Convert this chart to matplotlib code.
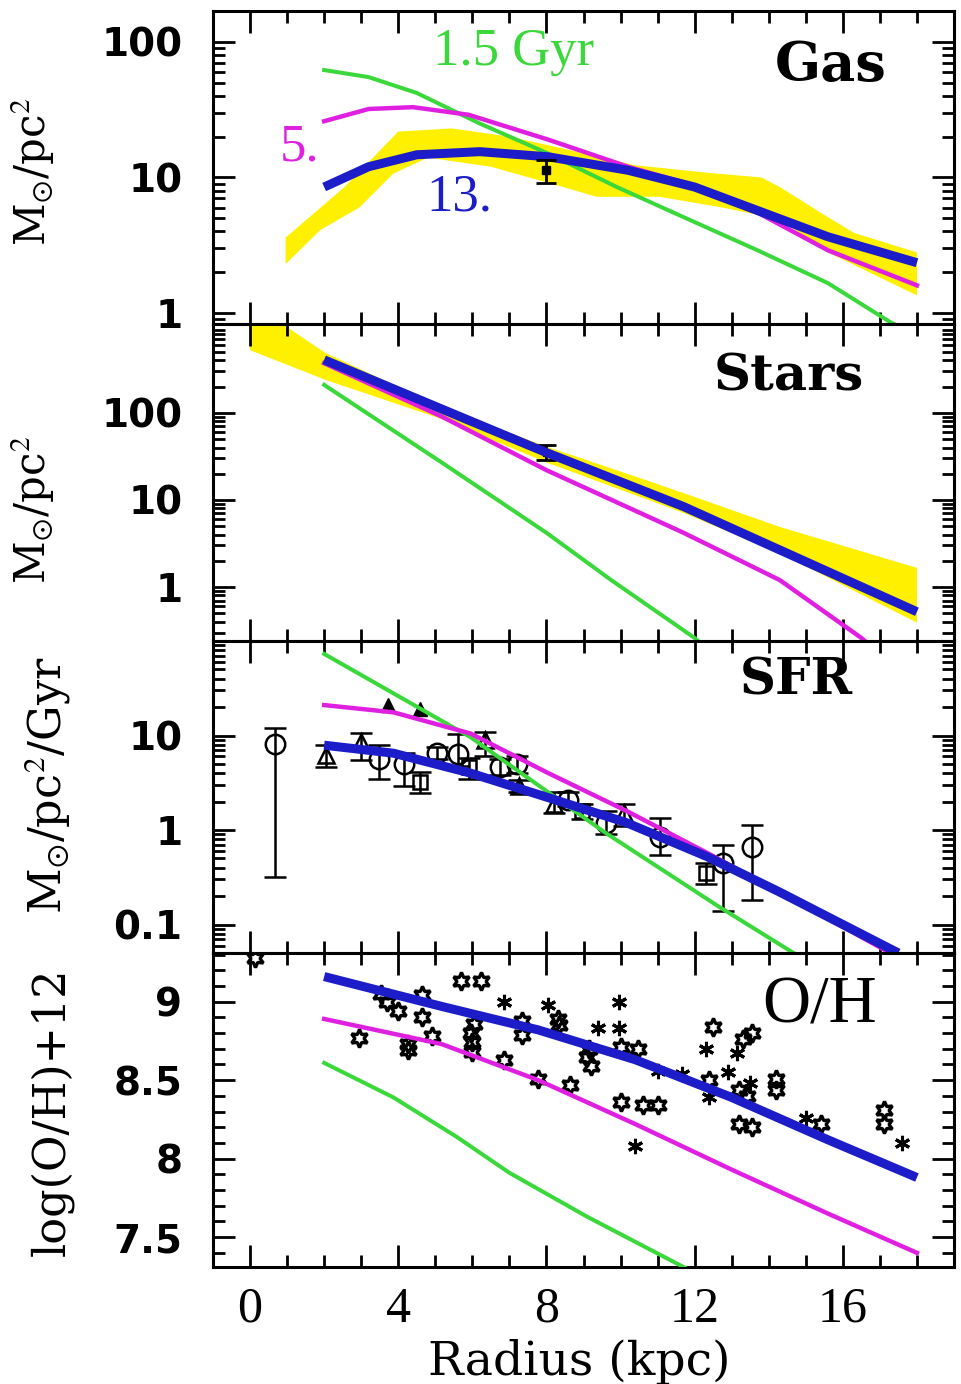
import numpy as np
import matplotlib
matplotlib.use("Agg")
import matplotlib.pyplot as plt
from matplotlib.ticker import FixedLocator, MultipleLocator, LogLocator, NullFormatter, FixedFormatter

plt.rcParams["font.family"] = ["Liberation Serif", "DejaVu Serif"]
plt.rcParams["mathtext.fontset"] = "stix"

GREEN = "#3ad83a"
MAGENTA = "#e020e0"
BLUE = "#1c1cc8"
YELLOW = "#fff000"

# ---- Gas panel ----
gas_green_r = [2, 3.2, 4.5, 6.2, 8.05, 9.9, 11.7, 13.7, 15.6, 17.3, 17.6]
gas_green = [62, 55, 42, 25, 15, 8.5, 5.1, 2.9, 1.66, 0.85, 0.78]
gas_mag_r = [2, 3.2, 4.4, 5.9, 8.05, 10.2, 11.7, 13.7, 15.6, 18]
gas_mag = [26, 32, 33, 29, 19, 12, 9.2, 5.5, 2.9, 1.6]
gas_blue_r = [2, 3.2, 4.5, 6.2, 8.05, 10.2, 12, 13.7, 15.6, 18]
gas_blue = [8.5, 12, 14.7, 15.5, 14.2, 11.3, 8.5, 5.7, 3.65, 2.35]
gas_band_up_r = [0.96, 2.55, 4.0, 5.45, 7.0, 8.6, 10.4, 12.4, 13.8, 14.3, 15.4, 16.3, 18]
gas_band_up = [3.6, 8.5, 21.8, 23, 20, 16, 12.3, 10.8, 10, 8.5, 5.5, 3.9, 2.8]
gas_band_lo_r = [0.96, 1.9, 2.95, 3.87, 4.8, 6.5, 8.45, 9.35, 11.05, 12.75, 14.3, 15.6, 18]
gas_band_lo = [2.3, 4.1, 6.0, 10.7, 14, 12, 8.5, 7.2, 7.2, 6.0, 4.9, 2.8, 1.35]
gas_obs_r, gas_obs, gas_obs_lo, gas_obs_hi = 8.0, 11.3, 9.1, 13.5

# ---- Stars panel ----
st_green_r = [2, 5.17, 8, 9.75, 12, 12.3]
st_green = [210, 27, 4.2, 1.2, 0.26, 0.2]
st_mag_r = [2, 5.17, 8, 11.7, 14.3, 16.5, 16.8]
st_mag = [372, 91, 22, 4.2, 1.2, 0.26, 0.2]
st_blue_r = [2, 5.17, 8, 11.7, 18]
st_blue = [407, 111, 35, 8.4, 0.52]
st_band_up_r = [0.0, 0.8, 2.03, 5.17, 8.0, 10.4, 11.7, 14.3, 18]
st_band_up = [1100, 1100, 490, 117, 41, 18.6, 12, 4.9, 1.66]
st_band_lo_r = [0.0, 2.03, 5.17, 8.0, 11.7, 14.3, 18]
st_band_lo = [525, 240, 85, 27, 7.1, 2.45, 0.39]
st_obs_r, st_obs, st_obs_lo, st_obs_hi = 8.0, 35, 29, 43

# ---- SFR panel ----
sfr_green_r = [2, 5.95, 9.6, 12.65, 14.6, 15.0]
sfr_green = [73, 9.6, 0.93, 0.155, 0.052, 0.042]
sfr_mag_r = [2, 3.87, 5.95, 8.05, 10.15, 12.35, 14.3, 17.2, 17.5]
sfr_mag = [21, 17.6, 10.5, 4.0, 1.6, 0.57, 0.22, 0.052, 0.045]
sfr_blue_r = [2, 3.87, 5.95, 8.05, 10.15, 12.35, 14.3, 17.5]
sfr_blue = [7.9, 6.5, 4.0, 2.2, 1.2, 0.52, 0.22, 0.05]

circ_r = [0.66, 3.47, 4.15, 5.04, 5.6, 6.74, 7.2, 8.57, 9.6, 11.06, 12.76, 13.55]
circ_v = [8.2, 5.7, 5.0, 6.6, 6.4, 4.6, 5.0, 2.1, 1.18, 0.85, 0.45, 0.66]
circ_lo = [0.32, 3.5, 2.9, 5.6, 4.8, 3.8, 4.0, 1.8, 0.9, 0.55, 0.14, 0.18]
circ_hi = [12, 7.9, 6.6, 7.6, 10.5, 5.6, 6.0, 2.5, 1.6, 1.35, 0.69, 1.13]
tri_r = [2.06, 3.0, 6.35, 7.27, 8.2, 10.1]
tri_v = [6.2, 8.5, 8.9, 2.9, 1.9, 1.5]
tri_lo = [4.6, 5.5, 6.0, 2.5, 1.5, 1.1]
tri_hi = [7.9, 10.7, 11.0, 3.4, 2.5, 1.9]
sq_r = [4.6, 5.9, 8.97, 12.3]
sq_v = [3.2, 4.6, 1.6, 0.35]
sq_lo = [2.45, 3.5, 1.3, 0.27]
sq_hi = [4.1, 5.8, 1.9, 0.45]
hi_tri_r = [3.73, 4.6]
hi_tri_v = [21, 19]

# ---- O/H panel ----
oh_green_r = [2, 3.87, 5.57, 7.0, 9.1, 11.7, 12.2]
oh_green = [8.61, 8.39, 8.14, 7.91, 7.63, 7.31, 7.25]
oh_mag_r = [2, 5.17, 7.78, 10.4, 13.0, 15.6, 18]
oh_mag = [8.89, 8.73, 8.50, 8.22, 7.93, 7.65, 7.40]
oh_blue_r = [2, 5.17, 7.78, 10.4, 13.0, 15.6, 18]
oh_blue = [9.16, 8.97, 8.82, 8.63, 8.39, 8.12, 7.88]

star_r = [0.13, 2.95, 3.54, 3.7, 4.0, 4.26, 4.26, 4.65, 4.65, 4.9, 5.7, 6.22, 5.96, 5.98,
          5.98, 6.05, 6.86, 7.33, 7.33, 7.78, 8.3, 8.35, 8.64, 9.1, 9.2, 9.15, 10.0, 10.47,
          10.0, 10.6, 11.0, 12.5, 12.4, 13.55, 13.3, 13.2, 13.4, 13.2, 13.55, 14.2, 14.2,
          15.4, 17.1, 17.1]
star_v = [9.28, 8.77, 9.05, 9.0, 8.94, 8.73, 8.69, 9.04, 8.9, 8.78, 9.13, 9.13, 8.80, 8.74,
          8.68, 8.86, 8.63, 8.88, 8.79, 8.51, 8.89, 8.85, 8.47, 8.65, 8.59, 8.70, 8.71, 8.70,
          8.36, 8.34, 8.34, 8.84, 8.50, 8.80, 8.76, 8.44, 8.40, 8.22, 8.20, 8.51, 8.44,
          8.22, 8.31, 8.22]
ast_r = [6.86, 8.05, 9.95, 9.4, 9.95, 10.4, 12.3, 13.15, 11.65, 11.0, 12.9, 12.4, 15.0, 17.6, 13.5]
ast_v = [9.0, 8.98, 9.0, 8.83, 8.83, 8.08, 8.70, 8.67, 8.54, 8.56, 8.55, 8.39, 8.26, 8.10, 8.48]

fig = plt.figure(figsize=(9.61, 13.84), dpi=100)
L, W = 213 / 961, 741 / 961
bounds = [(11, 324), (324, 641), (641, 953), (953, 1267)]
axes = [fig.add_axes([L, 1 - b / 1384, W, (b - t) / 1384]) for t, b in bounds]
ax_gas, ax_st, ax_sfr, ax_oh = axes

for ax in axes:
    ax.set_xlim(-1, 19)
    ax.xaxis.set_major_locator(MultipleLocator(4))
    ax.xaxis.set_minor_locator(MultipleLocator(1))
    ax.tick_params(which="both", direction="in", top=True, right=True, width=2, colors="black")
    ax.tick_params(which="major", length=16)
    ax.tick_params(which="minor", length=8.5)
    ax.tick_params(axis="y", which="major", pad=22)
    for sp in ax.spines.values():
        sp.set_linewidth(2.2)
    if ax is not ax_oh:
        ax.tick_params(axis="x", labelbottom=False)

def log_axis(ax, lo, hi, majors, labels):
    ax.set_yscale("log")
    ax.set_ylim(lo, hi)
    ax.yaxis.set_major_locator(FixedLocator(majors))
    ax.yaxis.set_major_formatter(FixedFormatter(labels))
    ax.yaxis.set_minor_locator(LogLocator(base=10, subs=np.arange(2, 10), numticks=30))
    ax.yaxis.set_minor_formatter(NullFormatter())

log_axis(ax_gas, 0.83, 169, [1, 10, 100], ["1", "10", "100"])
log_axis(ax_st, 0.24, 1050, [1, 10, 100], ["1", "10", "100"])
log_axis(ax_sfr, 0.05, 100, [0.1, 1, 10], ["0.1", "1", "10"])
ax_oh.set_ylim(7.31, 9.31)
ax_oh.yaxis.set_major_locator(FixedLocator([7.5, 8, 8.5, 9]))
ax_oh.yaxis.set_major_formatter(FixedFormatter(["7.5", "8", "8.5", "9"]))
ax_oh.yaxis.set_minor_locator(MultipleLocator(0.1))

for ax in axes:
    for lab in ax.get_yticklabels():
        lab.set_fontfamily("DejaVu Sans")
        lab.set_fontweight("bold")
        lab.set_fontsize(28)
for lab in ax_oh.get_xticklabels():
    lab.set_fontsize(36)
ax_oh.tick_params(axis="x", which="major", pad=14)

# Gas
ax_gas.fill(np.concatenate([gas_band_up_r, gas_band_lo_r[::-1]]),
            np.concatenate([gas_band_up, gas_band_lo[::-1]]), color=YELLOW, lw=0, zorder=1)
ax_gas.plot(gas_green_r, gas_green, color=GREEN, lw=2.9, zorder=2)
ax_gas.plot(gas_mag_r, gas_mag, color=MAGENTA, lw=3.2, zorder=3)
ax_gas.plot(gas_blue_r, gas_blue, color=BLUE, lw=6.5, zorder=4, solid_capstyle="butt")
ax_gas.errorbar([gas_obs_r], [gas_obs], yerr=[[gas_obs - gas_obs_lo], [gas_obs_hi - gas_obs]],
                fmt="s", ms=6, color="black", capsize=7, elinewidth=2, capthick=2, zorder=5)
ax_gas.text(7.1, 84, "1.5 Gyr", color=GREEN, fontsize=38, ha="center", va="center")
ax_gas.text(1.33, 16.5, "5.", color=MAGENTA, fontsize=38, ha="center", va="center")
ax_gas.text(5.65, 7.06, "13.", color=BLUE, fontsize=38, ha="center", va="center")

# Stars
ax_st.fill(np.concatenate([st_band_up_r, st_band_lo_r[::-1]]),
           np.concatenate([st_band_up, st_band_lo[::-1]]), color=YELLOW, lw=0, zorder=1)
ax_st.plot(st_green_r, st_green, color=GREEN, lw=2.9, zorder=2)
ax_st.plot(st_mag_r, st_mag, color=MAGENTA, lw=3.2, zorder=3)
ax_st.errorbar([st_obs_r], [st_obs], yerr=[[st_obs - st_obs_lo], [st_obs_hi - st_obs]],
               fmt="s", ms=5, color="black", capsize=7, elinewidth=2, capthick=2, zorder=4)
ax_st.plot(st_blue_r, st_blue, color=BLUE, lw=6.5, zorder=5, solid_capstyle="butt")

# SFR
ekw = dict(color="black", ecolor="black", capsize=8, elinewidth=1.8, capthick=1.8, mew=1.8, zorder=3)
ax_sfr.errorbar(circ_r, circ_v, yerr=[np.subtract(circ_v, circ_lo), np.subtract(circ_hi, circ_v)],
                fmt="o", ms=14, mfc="none", **ekw)
ax_sfr.errorbar(tri_r, tri_v, yerr=[np.subtract(tri_v, tri_lo), np.subtract(tri_hi, tri_v)],
                fmt="^", ms=11, mfc="none", **ekw)
ax_sfr.errorbar(sq_r, sq_v, yerr=[np.subtract(sq_v, sq_lo), np.subtract(sq_hi, sq_v)],
                fmt="s", ms=10, mfc="none", **ekw)
ax_sfr.plot(hi_tri_r, hi_tri_v, "^", ms=10, mfc="black", mec="black", zorder=3)
ax_sfr.plot(sfr_green_r, sfr_green, color=GREEN, lw=2.9, zorder=4)
ax_sfr.plot(sfr_mag_r, sfr_mag, color=MAGENTA, lw=3.2, zorder=5)
ax_sfr.plot(sfr_blue_r, sfr_blue, color=BLUE, lw=6.5, zorder=6, solid_capstyle="butt")

# O/H
ax_oh.plot(star_r, star_v, ls="none", marker=(6, 1, 0), ms=13, mfc="none", mec="black", mew=2.4, zorder=3)
ax_oh.plot(ast_r, ast_v, ls="none", marker=(6, 2, 0), ms=11, mec="black", mew=2.2, zorder=3)
ax_oh.plot(oh_green_r, oh_green, color=GREEN, lw=2.9, zorder=4)
ax_oh.plot(oh_mag_r, oh_mag, color=MAGENTA, lw=3.2, zorder=5)
ax_oh.plot(oh_blue_r, oh_blue, color=BLUE, lw=6.5, zorder=6, solid_capstyle="butt")

# panel names
name_kw = dict(fontsize=39, fontweight="bold", family="DejaVu Serif", ha="center", va="center")
ax_gas.text(0.834, 0.824, "Gas", transform=ax_gas.transAxes, **name_kw)
ax_st.text(0.777, 0.833, "Stars", transform=ax_st.transAxes, **dict(name_kw, fontsize=37))
ax_sfr.text(0.787, 0.872, "SFR", transform=ax_sfr.transAxes, **dict(name_kw, fontsize=36))
ax_oh.text(0.818, 0.831, "O/H", transform=ax_oh.transAxes, fontsize=48,
           ha="center", va="center")

# axis labels
lab_kw = dict(family="DejaVu Serif", rotation=90, ha="center", va="center")
fig.text(579 / 961, 1 - 1362 / 1384, "Radius (kpc)", fontsize=34, family="DejaVu Serif",
         ha="center", va="center")
ylab = r"M$_{\odot}$/pc$^{2}$"
fig.text(33 / 961, 1 - 172 / 1384, ylab, fontsize=30, **lab_kw)
fig.text(33 / 961, 1 - 510 / 1384, ylab, fontsize=30, **lab_kw)
fig.text(47 / 961, 1 - 785 / 1384, r"M$_{\odot}$/pc$^{2}$/Gyr", fontsize=32, **lab_kw)
fig.text(52 / 961, 1 - 1112 / 1384, "log(O/H)+12", fontsize=32, **lab_kw)

fig.savefig("out.png", dpi=100)
